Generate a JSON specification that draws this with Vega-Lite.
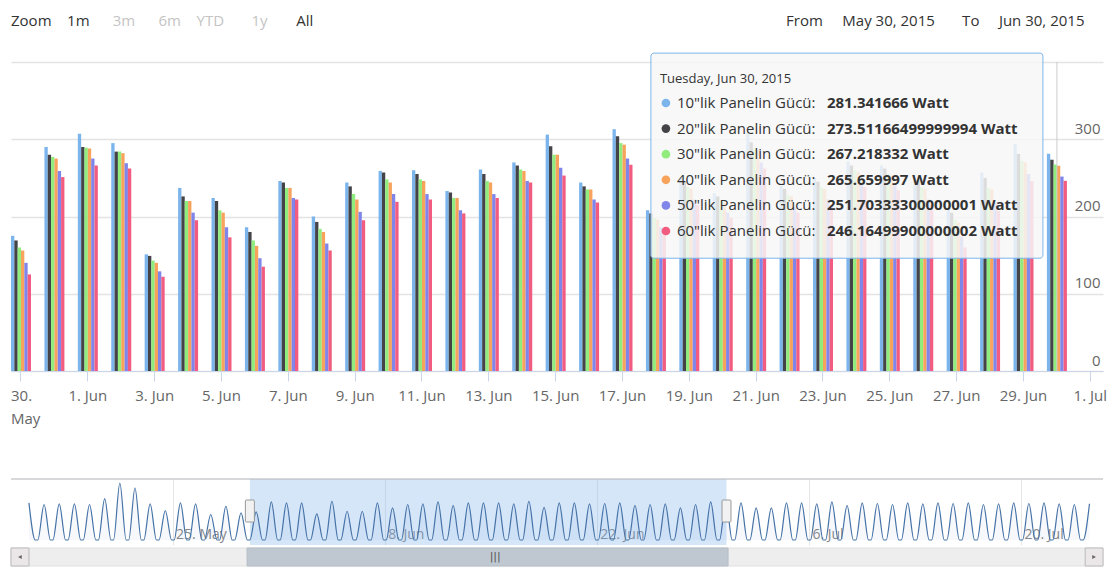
{
  "$schema": "https://vega.github.io/schema/vega-lite/v6.json",
  "background": "white",
  "padding": {"left": 10, "top": 13, "right": 0, "bottom": 0},
  "config": {
    "font": "Open Sans",
    "view": {"stroke": null}
  },
  "datasets": {
    "bars": [
      {"day":"2015-05-30","series":"10\"lik Panelin Gücü","power":175},{"day":"2015-05-30","series":"20\"lik Panelin Gücü","power":169},{"day":"2015-05-30","series":"30\"lik Panelin Gücü","power":160},{"day":"2015-05-30","series":"40\"lik Panelin Gücü","power":156},{"day":"2015-05-30","series":"50\"lik Panelin Gücü","power":140},{"day":"2015-05-30","series":"60\"lik Panelin Gücü","power":125},
      {"day":"2015-05-31","series":"10\"lik Panelin Gücü","power":290},{"day":"2015-05-31","series":"20\"lik Panelin Gücü","power":280},{"day":"2015-05-31","series":"30\"lik Panelin Gücü","power":277},{"day":"2015-05-31","series":"40\"lik Panelin Gücü","power":275},{"day":"2015-05-31","series":"50\"lik Panelin Gücü","power":259},{"day":"2015-05-31","series":"60\"lik Panelin Gücü","power":251},
      {"day":"2015-06-01","series":"10\"lik Panelin Gücü","power":307},{"day":"2015-06-01","series":"20\"lik Panelin Gücü","power":290},{"day":"2015-06-01","series":"30\"lik Panelin Gücü","power":289},{"day":"2015-06-01","series":"40\"lik Panelin Gücü","power":288},{"day":"2015-06-01","series":"50\"lik Panelin Gücü","power":275},{"day":"2015-06-01","series":"60\"lik Panelin Gücü","power":266},
      {"day":"2015-06-02","series":"10\"lik Panelin Gücü","power":295},{"day":"2015-06-02","series":"20\"lik Panelin Gücü","power":284},{"day":"2015-06-02","series":"30\"lik Panelin Gücü","power":284},{"day":"2015-06-02","series":"40\"lik Panelin Gücü","power":282},{"day":"2015-06-02","series":"50\"lik Panelin Gücü","power":269},{"day":"2015-06-02","series":"60\"lik Panelin Gücü","power":262},
      {"day":"2015-06-03","series":"10\"lik Panelin Gücü","power":151},{"day":"2015-06-03","series":"20\"lik Panelin Gücü","power":149},{"day":"2015-06-03","series":"30\"lik Panelin Gücü","power":143},{"day":"2015-06-03","series":"40\"lik Panelin Gücü","power":140},{"day":"2015-06-03","series":"50\"lik Panelin Gücü","power":129},{"day":"2015-06-03","series":"60\"lik Panelin Gücü","power":122},
      {"day":"2015-06-04","series":"10\"lik Panelin Gücü","power":237},{"day":"2015-06-04","series":"20\"lik Panelin Gücü","power":226},{"day":"2015-06-04","series":"30\"lik Panelin Gücü","power":220},{"day":"2015-06-04","series":"40\"lik Panelin Gücü","power":220},{"day":"2015-06-04","series":"50\"lik Panelin Gücü","power":205},{"day":"2015-06-04","series":"60\"lik Panelin Gücü","power":195},
      {"day":"2015-06-05","series":"10\"lik Panelin Gücü","power":224},{"day":"2015-06-05","series":"20\"lik Panelin Gücü","power":220},{"day":"2015-06-05","series":"30\"lik Panelin Gücü","power":208},{"day":"2015-06-05","series":"40\"lik Panelin Gücü","power":205},{"day":"2015-06-05","series":"50\"lik Panelin Gücü","power":186},{"day":"2015-06-05","series":"60\"lik Panelin Gücü","power":173},
      {"day":"2015-06-06","series":"10\"lik Panelin Gücü","power":186},{"day":"2015-06-06","series":"20\"lik Panelin Gücü","power":180},{"day":"2015-06-06","series":"30\"lik Panelin Gücü","power":169},{"day":"2015-06-06","series":"40\"lik Panelin Gücü","power":162},{"day":"2015-06-06","series":"50\"lik Panelin Gücü","power":146},{"day":"2015-06-06","series":"60\"lik Panelin Gücü","power":135},
      {"day":"2015-06-07","series":"10\"lik Panelin Gücü","power":246},{"day":"2015-06-07","series":"20\"lik Panelin Gücü","power":244},{"day":"2015-06-07","series":"30\"lik Panelin Gücü","power":237},{"day":"2015-06-07","series":"40\"lik Panelin Gücü","power":237},{"day":"2015-06-07","series":"50\"lik Panelin Gücü","power":224},{"day":"2015-06-07","series":"60\"lik Panelin Gücü","power":222},
      {"day":"2015-06-08","series":"10\"lik Panelin Gücü","power":200},{"day":"2015-06-08","series":"20\"lik Panelin Gücü","power":193},{"day":"2015-06-08","series":"30\"lik Panelin Gücü","power":184},{"day":"2015-06-08","series":"40\"lik Panelin Gücü","power":180},{"day":"2015-06-08","series":"50\"lik Panelin Gücü","power":165},{"day":"2015-06-08","series":"60\"lik Panelin Gücü","power":156},
      {"day":"2015-06-09","series":"10\"lik Panelin Gücü","power":244},{"day":"2015-06-09","series":"20\"lik Panelin Gücü","power":239},{"day":"2015-06-09","series":"30\"lik Panelin Gücü","power":229},{"day":"2015-06-09","series":"40\"lik Panelin Gücü","power":222},{"day":"2015-06-09","series":"50\"lik Panelin Gücü","power":206},{"day":"2015-06-09","series":"60\"lik Panelin Gücü","power":195},
      {"day":"2015-06-10","series":"10\"lik Panelin Gücü","power":259},{"day":"2015-06-10","series":"20\"lik Panelin Gücü","power":257},{"day":"2015-06-10","series":"30\"lik Panelin Gücü","power":248},{"day":"2015-06-10","series":"40\"lik Panelin Gücü","power":244},{"day":"2015-06-10","series":"50\"lik Panelin Gücü","power":229},{"day":"2015-06-10","series":"60\"lik Panelin Gücü","power":219},
      {"day":"2015-06-11","series":"10\"lik Panelin Gücü","power":260},{"day":"2015-06-11","series":"20\"lik Panelin Gücü","power":255},{"day":"2015-06-11","series":"30\"lik Panelin Gücü","power":248},{"day":"2015-06-11","series":"40\"lik Panelin Gücü","power":246},{"day":"2015-06-11","series":"50\"lik Panelin Gücü","power":229},{"day":"2015-06-11","series":"60\"lik Panelin Gücü","power":222},
      {"day":"2015-06-12","series":"10\"lik Panelin Gücü","power":233},{"day":"2015-06-12","series":"20\"lik Panelin Gücü","power":231},{"day":"2015-06-12","series":"30\"lik Panelin Gücü","power":224},{"day":"2015-06-12","series":"40\"lik Panelin Gücü","power":224},{"day":"2015-06-12","series":"50\"lik Panelin Gücü","power":208},{"day":"2015-06-12","series":"60\"lik Panelin Gücü","power":204},
      {"day":"2015-06-13","series":"10\"lik Panelin Gücü","power":261},{"day":"2015-06-13","series":"20\"lik Panelin Gücü","power":255},{"day":"2015-06-13","series":"30\"lik Panelin Gücü","power":246},{"day":"2015-06-13","series":"40\"lik Panelin Gücü","power":244},{"day":"2015-06-13","series":"50\"lik Panelin Gücü","power":229},{"day":"2015-06-13","series":"60\"lik Panelin Gücü","power":224},
      {"day":"2015-06-14","series":"10\"lik Panelin Gücü","power":270},{"day":"2015-06-14","series":"20\"lik Panelin Gücü","power":266},{"day":"2015-06-14","series":"30\"lik Panelin Gücü","power":261},{"day":"2015-06-14","series":"40\"lik Panelin Gücü","power":259},{"day":"2015-06-14","series":"50\"lik Panelin Gücü","power":246},{"day":"2015-06-14","series":"60\"lik Panelin Gücü","power":244},
      {"day":"2015-06-15","series":"10\"lik Panelin Gücü","power":306},{"day":"2015-06-15","series":"20\"lik Panelin Gücü","power":291},{"day":"2015-06-15","series":"30\"lik Panelin Gücü","power":280},{"day":"2015-06-15","series":"40\"lik Panelin Gücü","power":280},{"day":"2015-06-15","series":"50\"lik Panelin Gücü","power":263},{"day":"2015-06-15","series":"60\"lik Panelin Gücü","power":253},
      {"day":"2015-06-16","series":"10\"lik Panelin Gücü","power":244},{"day":"2015-06-16","series":"20\"lik Panelin Gücü","power":239},{"day":"2015-06-16","series":"30\"lik Panelin Gücü","power":235},{"day":"2015-06-16","series":"40\"lik Panelin Gücü","power":235},{"day":"2015-06-16","series":"50\"lik Panelin Gücü","power":222},{"day":"2015-06-16","series":"60\"lik Panelin Gücü","power":218},
      {"day":"2015-06-17","series":"10\"lik Panelin Gücü","power":313},{"day":"2015-06-17","series":"20\"lik Panelin Gücü","power":304},{"day":"2015-06-17","series":"30\"lik Panelin Gücü","power":295},{"day":"2015-06-17","series":"40\"lik Panelin Gücü","power":293},{"day":"2015-06-17","series":"50\"lik Panelin Gücü","power":275},{"day":"2015-06-17","series":"60\"lik Panelin Gücü","power":267},
      {"day":"2015-06-18","series":"10\"lik Panelin Gücü","power":208},{"day":"2015-06-18","series":"20\"lik Panelin Gücü","power":204},{"day":"2015-06-18","series":"30\"lik Panelin Gücü","power":198},{"day":"2015-06-18","series":"40\"lik Panelin Gücü","power":196},{"day":"2015-06-18","series":"50\"lik Panelin Gücü","power":186},{"day":"2015-06-18","series":"60\"lik Panelin Gücü","power":180},
      {"day":"2015-06-19","series":"10\"lik Panelin Gücü","power":250},{"day":"2015-06-19","series":"20\"lik Panelin Gücü","power":245},{"day":"2015-06-19","series":"30\"lik Panelin Gücü","power":238},{"day":"2015-06-19","series":"40\"lik Panelin Gücü","power":236},{"day":"2015-06-19","series":"50\"lik Panelin Gücü","power":222},{"day":"2015-06-19","series":"60\"lik Panelin Gücü","power":215},
      {"day":"2015-06-20","series":"10\"lik Panelin Gücü","power":230},{"day":"2015-06-20","series":"20\"lik Panelin Gücü","power":226},{"day":"2015-06-20","series":"30\"lik Panelin Gücü","power":220},{"day":"2015-06-20","series":"40\"lik Panelin Gücü","power":218},{"day":"2015-06-20","series":"50\"lik Panelin Gücü","power":205},{"day":"2015-06-20","series":"60\"lik Panelin Gücü","power":198},
      {"day":"2015-06-21","series":"10\"lik Panelin Gücü","power":309},{"day":"2015-06-21","series":"20\"lik Panelin Gücü","power":296},{"day":"2015-06-21","series":"30\"lik Panelin Gücü","power":288},{"day":"2015-06-21","series":"40\"lik Panelin Gücü","power":286},{"day":"2015-06-21","series":"50\"lik Panelin Gücü","power":270},{"day":"2015-06-21","series":"60\"lik Panelin Gücü","power":262},
      {"day":"2015-06-22","series":"10\"lik Panelin Gücü","power":240},{"day":"2015-06-22","series":"20\"lik Panelin Gücü","power":236},{"day":"2015-06-22","series":"30\"lik Panelin Gücü","power":228},{"day":"2015-06-22","series":"40\"lik Panelin Gücü","power":226},{"day":"2015-06-22","series":"50\"lik Panelin Gücü","power":212},{"day":"2015-06-22","series":"60\"lik Panelin Gücü","power":205},
      {"day":"2015-06-23","series":"10\"lik Panelin Gücü","power":250},{"day":"2015-06-23","series":"20\"lik Panelin Gücü","power":245},{"day":"2015-06-23","series":"30\"lik Panelin Gücü","power":238},{"day":"2015-06-23","series":"40\"lik Panelin Gücü","power":236},{"day":"2015-06-23","series":"50\"lik Panelin Gücü","power":222},{"day":"2015-06-23","series":"60\"lik Panelin Gücü","power":215},
      {"day":"2015-06-24","series":"10\"lik Panelin Gücü","power":271},{"day":"2015-06-24","series":"20\"lik Panelin Gücü","power":266},{"day":"2015-06-24","series":"30\"lik Panelin Gücü","power":260},{"day":"2015-06-24","series":"40\"lik Panelin Gücü","power":258},{"day":"2015-06-24","series":"50\"lik Panelin Gücü","power":244},{"day":"2015-06-24","series":"60\"lik Panelin Gücü","power":238},
      {"day":"2015-06-25","series":"10\"lik Panelin Gücü","power":266},{"day":"2015-06-25","series":"20\"lik Panelin Gücü","power":262},{"day":"2015-06-25","series":"30\"lik Panelin Gücü","power":255},{"day":"2015-06-25","series":"40\"lik Panelin Gücü","power":253},{"day":"2015-06-25","series":"50\"lik Panelin Gücü","power":240},{"day":"2015-06-25","series":"60\"lik Panelin Gücü","power":234},
      {"day":"2015-06-26","series":"10\"lik Panelin Gücü","power":250},{"day":"2015-06-26","series":"20\"lik Panelin Gücü","power":246},{"day":"2015-06-26","series":"30\"lik Panelin Gücü","power":238},{"day":"2015-06-26","series":"40\"lik Panelin Gücü","power":236},{"day":"2015-06-26","series":"50\"lik Panelin Gücü","power":222},{"day":"2015-06-26","series":"60\"lik Panelin Gücü","power":216},
      {"day":"2015-06-27","series":"10\"lik Panelin Gücü","power":211},{"day":"2015-06-27","series":"20\"lik Panelin Gücü","power":205},{"day":"2015-06-27","series":"30\"lik Panelin Gücü","power":196},{"day":"2015-06-27","series":"40\"lik Panelin Gücü","power":192},{"day":"2015-06-27","series":"50\"lik Panelin Gücü","power":174},{"day":"2015-06-27","series":"60\"lik Panelin Gücü","power":160},
      {"day":"2015-06-28","series":"10\"lik Panelin Gücü","power":257},{"day":"2015-06-28","series":"20\"lik Panelin Gücü","power":250},{"day":"2015-06-28","series":"30\"lik Panelin Gücü","power":237},{"day":"2015-06-28","series":"40\"lik Panelin Gücü","power":235},{"day":"2015-06-28","series":"50\"lik Panelin Gücü","power":218},{"day":"2015-06-28","series":"60\"lik Panelin Gücü","power":207},
      {"day":"2015-06-29","series":"10\"lik Panelin Gücü","power":294},{"day":"2015-06-29","series":"20\"lik Panelin Gücü","power":281},{"day":"2015-06-29","series":"30\"lik Panelin Gücü","power":272},{"day":"2015-06-29","series":"40\"lik Panelin Gücü","power":270},{"day":"2015-06-29","series":"50\"lik Panelin Gücü","power":255},{"day":"2015-06-29","series":"60\"lik Panelin Gücü","power":246},
      {"day":"2015-06-30","series":"10\"lik Panelin Gücü","power":281.341666},{"day":"2015-06-30","series":"20\"lik Panelin Gücü","power":273.51166499999994},{"day":"2015-06-30","series":"30\"lik Panelin Gücü","power":267.218332},{"day":"2015-06-30","series":"40\"lik Panelin Gücü","power":265.659997},{"day":"2015-06-30","series":"50\"lik Panelin Gücü","power":251.70333300000001},{"day":"2015-06-30","series":"60\"lik Panelin Gücü","power":246.16499900000002}
    ],
    "nav": [
      {"t":"2015-05-15T12:30Z","v":297},{"t":"2015-05-15T22:30Z","v":0},
      {"t":"2015-05-16T02:30Z","v":0},{"t":"2015-05-16T12:30Z","v":284},{"t":"2015-05-16T22:30Z","v":0},
      {"t":"2015-05-17T02:30Z","v":0},{"t":"2015-05-17T12:30Z","v":289},{"t":"2015-05-17T22:30Z","v":0},
      {"t":"2015-05-18T02:30Z","v":0},{"t":"2015-05-18T12:30Z","v":289},{"t":"2015-05-18T22:30Z","v":0},
      {"t":"2015-05-19T02:30Z","v":0},{"t":"2015-05-19T12:30Z","v":284},{"t":"2015-05-19T22:30Z","v":0},
      {"t":"2015-05-20T02:30Z","v":0},{"t":"2015-05-20T12:30Z","v":331},{"t":"2015-05-20T22:30Z","v":0},
      {"t":"2015-05-21T02:30Z","v":0},{"t":"2015-05-21T12:30Z","v":456},{"t":"2015-05-21T22:30Z","v":0},
      {"t":"2015-05-22T02:30Z","v":0},{"t":"2015-05-22T12:30Z","v":416},{"t":"2015-05-22T22:30Z","v":0},
      {"t":"2015-05-23T02:30Z","v":0},{"t":"2015-05-23T12:30Z","v":289},{"t":"2015-05-23T22:30Z","v":0},
      {"t":"2015-05-24T02:30Z","v":0},{"t":"2015-05-24T12:30Z","v":236},{"t":"2015-05-24T22:30Z","v":0},
      {"t":"2015-05-25T02:30Z","v":0},{"t":"2015-05-25T12:30Z","v":297},{"t":"2015-05-25T22:30Z","v":0},
      {"t":"2015-05-26T02:30Z","v":0},{"t":"2015-05-26T12:30Z","v":289},{"t":"2015-05-26T22:30Z","v":0},
      {"t":"2015-05-27T02:30Z","v":0},{"t":"2015-05-27T12:30Z","v":204},{"t":"2015-05-27T22:30Z","v":0},
      {"t":"2015-05-28T02:30Z","v":0},{"t":"2015-05-28T12:30Z","v":270},{"t":"2015-05-28T22:30Z","v":0},
      {"t":"2015-05-29T02:30Z","v":0},{"t":"2015-05-29T12:30Z","v":217},{"t":"2015-05-29T22:30Z","v":0},
      {"t":"2015-05-30T02:30Z","v":0},{"t":"2015-05-30T12:30Z","v":225},{"t":"2015-05-30T22:30Z","v":0},
      {"t":"2015-05-31T02:30Z","v":0},{"t":"2015-05-31T12:30Z","v":305},{"t":"2015-05-31T22:30Z","v":0},
      {"t":"2015-06-01T02:30Z","v":0},{"t":"2015-06-01T12:30Z","v":297},{"t":"2015-06-01T22:30Z","v":0},
      {"t":"2015-06-02T02:30Z","v":0},{"t":"2015-06-02T12:30Z","v":297},{"t":"2015-06-02T22:30Z","v":0},
      {"t":"2015-06-03T02:30Z","v":0},{"t":"2015-06-03T12:30Z","v":209},{"t":"2015-06-03T22:30Z","v":0},
      {"t":"2015-06-04T02:30Z","v":0},{"t":"2015-06-04T12:30Z","v":310},{"t":"2015-06-04T22:30Z","v":0},
      {"t":"2015-06-05T02:30Z","v":0},{"t":"2015-06-05T12:30Z","v":230},{"t":"2015-06-05T22:30Z","v":0},
      {"t":"2015-06-06T02:30Z","v":0},{"t":"2015-06-06T12:30Z","v":230},{"t":"2015-06-06T22:30Z","v":0},
      {"t":"2015-06-07T02:30Z","v":0},{"t":"2015-06-07T12:30Z","v":297},{"t":"2015-06-07T22:30Z","v":0},
      {"t":"2015-06-08T02:30Z","v":0},{"t":"2015-06-08T12:30Z","v":257},{"t":"2015-06-08T22:30Z","v":0},
      {"t":"2015-06-09T02:30Z","v":0},{"t":"2015-06-09T12:30Z","v":284},{"t":"2015-06-09T22:30Z","v":0},
      {"t":"2015-06-10T02:30Z","v":0},{"t":"2015-06-10T12:30Z","v":289},{"t":"2015-06-10T22:30Z","v":0},
      {"t":"2015-06-11T02:30Z","v":0},{"t":"2015-06-11T12:30Z","v":305},{"t":"2015-06-11T22:30Z","v":0},
      {"t":"2015-06-12T02:30Z","v":0},{"t":"2015-06-12T12:30Z","v":276},{"t":"2015-06-12T22:30Z","v":0},
      {"t":"2015-06-13T02:30Z","v":0},{"t":"2015-06-13T12:30Z","v":297},{"t":"2015-06-13T22:30Z","v":0},
      {"t":"2015-06-14T02:30Z","v":0},{"t":"2015-06-14T12:30Z","v":297},{"t":"2015-06-14T22:30Z","v":0},
      {"t":"2015-06-15T02:30Z","v":0},{"t":"2015-06-15T12:30Z","v":297},{"t":"2015-06-15T22:30Z","v":0},
      {"t":"2015-06-16T02:30Z","v":0},{"t":"2015-06-16T12:30Z","v":289},{"t":"2015-06-16T22:30Z","v":0},
      {"t":"2015-06-17T02:30Z","v":0},{"t":"2015-06-17T12:30Z","v":310},{"t":"2015-06-17T22:30Z","v":0},
      {"t":"2015-06-18T02:30Z","v":0},{"t":"2015-06-18T12:30Z","v":262},{"t":"2015-06-18T22:30Z","v":0},
      {"t":"2015-06-19T02:30Z","v":0},{"t":"2015-06-19T12:30Z","v":297},{"t":"2015-06-19T22:30Z","v":0},
      {"t":"2015-06-20T02:30Z","v":0},{"t":"2015-06-20T12:30Z","v":297},{"t":"2015-06-20T22:30Z","v":0},
      {"t":"2015-06-21T02:30Z","v":0},{"t":"2015-06-21T12:30Z","v":289},{"t":"2015-06-21T22:30Z","v":0},
      {"t":"2015-06-22T02:30Z","v":0},{"t":"2015-06-22T12:30Z","v":292},{"t":"2015-06-22T22:30Z","v":0},
      {"t":"2015-06-23T02:30Z","v":0},{"t":"2015-06-23T12:30Z","v":297},{"t":"2015-06-23T22:30Z","v":0},
      {"t":"2015-06-24T02:30Z","v":0},{"t":"2015-06-24T12:30Z","v":276},{"t":"2015-06-24T22:30Z","v":0},
      {"t":"2015-06-25T02:30Z","v":0},{"t":"2015-06-25T12:30Z","v":284},{"t":"2015-06-25T22:30Z","v":0},
      {"t":"2015-06-26T02:30Z","v":0},{"t":"2015-06-26T12:30Z","v":289},{"t":"2015-06-26T22:30Z","v":0},
      {"t":"2015-06-27T02:30Z","v":0},{"t":"2015-06-27T12:30Z","v":257},{"t":"2015-06-27T22:30Z","v":0},
      {"t":"2015-06-28T02:30Z","v":0},{"t":"2015-06-28T12:30Z","v":284},{"t":"2015-06-28T22:30Z","v":0},
      {"t":"2015-06-29T02:30Z","v":0},{"t":"2015-06-29T12:30Z","v":305},{"t":"2015-06-29T22:30Z","v":0},
      {"t":"2015-06-30T02:30Z","v":0},{"t":"2015-06-30T12:30Z","v":310},{"t":"2015-06-30T22:30Z","v":0},
      {"t":"2015-07-01T02:30Z","v":0},{"t":"2015-07-01T12:30Z","v":297},{"t":"2015-07-01T22:30Z","v":0},
      {"t":"2015-07-02T02:30Z","v":0},{"t":"2015-07-02T12:30Z","v":257},{"t":"2015-07-02T22:30Z","v":0},
      {"t":"2015-07-03T02:30Z","v":0},{"t":"2015-07-03T12:30Z","v":257},{"t":"2015-07-03T22:30Z","v":0},
      {"t":"2015-07-04T02:30Z","v":0},{"t":"2015-07-04T12:30Z","v":297},{"t":"2015-07-04T22:30Z","v":0},
      {"t":"2015-07-05T02:30Z","v":0},{"t":"2015-07-05T12:30Z","v":297},{"t":"2015-07-05T22:30Z","v":0},
      {"t":"2015-07-06T02:30Z","v":0},{"t":"2015-07-06T12:30Z","v":289},{"t":"2015-07-06T22:30Z","v":0},
      {"t":"2015-07-07T02:30Z","v":0},{"t":"2015-07-07T12:30Z","v":305},{"t":"2015-07-07T22:30Z","v":0},
      {"t":"2015-07-08T02:30Z","v":0},{"t":"2015-07-08T12:30Z","v":276},{"t":"2015-07-08T22:30Z","v":0},
      {"t":"2015-07-09T02:30Z","v":0},{"t":"2015-07-09T12:30Z","v":297},{"t":"2015-07-09T22:30Z","v":0},
      {"t":"2015-07-10T02:30Z","v":0},{"t":"2015-07-10T12:30Z","v":292},{"t":"2015-07-10T22:30Z","v":0},
      {"t":"2015-07-11T02:30Z","v":0},{"t":"2015-07-11T12:30Z","v":284},{"t":"2015-07-11T22:30Z","v":0},
      {"t":"2015-07-12T02:30Z","v":0},{"t":"2015-07-12T12:30Z","v":297},{"t":"2015-07-12T22:30Z","v":0},
      {"t":"2015-07-13T02:30Z","v":0},{"t":"2015-07-13T12:30Z","v":289},{"t":"2015-07-13T22:30Z","v":0},
      {"t":"2015-07-14T02:30Z","v":0},{"t":"2015-07-14T12:30Z","v":297},{"t":"2015-07-14T22:30Z","v":0},
      {"t":"2015-07-15T02:30Z","v":0},{"t":"2015-07-15T12:30Z","v":292},{"t":"2015-07-15T22:30Z","v":0},
      {"t":"2015-07-16T02:30Z","v":0},{"t":"2015-07-16T12:30Z","v":297},{"t":"2015-07-16T22:30Z","v":0},
      {"t":"2015-07-17T02:30Z","v":0},{"t":"2015-07-17T12:30Z","v":284},{"t":"2015-07-17T22:30Z","v":0},
      {"t":"2015-07-18T02:30Z","v":0},{"t":"2015-07-18T12:30Z","v":289},{"t":"2015-07-18T22:30Z","v":0},
      {"t":"2015-07-19T02:30Z","v":0},{"t":"2015-07-19T12:30Z","v":297},{"t":"2015-07-19T22:30Z","v":0},
      {"t":"2015-07-20T02:30Z","v":0},{"t":"2015-07-20T12:30Z","v":292},{"t":"2015-07-20T22:30Z","v":0},
      {"t":"2015-07-21T02:30Z","v":0},{"t":"2015-07-21T12:30Z","v":297},{"t":"2015-07-21T22:30Z","v":0},
      {"t":"2015-07-22T02:30Z","v":0},{"t":"2015-07-22T12:30Z","v":289},{"t":"2015-07-22T22:30Z","v":0},
      {"t":"2015-07-23T02:30Z","v":0},{"t":"2015-07-23T12:30Z","v":284},{"t":"2015-07-23T22:30Z","v":0},
      {"t":"2015-07-24T02:30Z","v":0},{"t":"2015-07-24T12:30Z","v":290}
    ]
  },
  "bounds": "flush",
  "spacing": 108,
  "vconcat": [
    {
      "width": 1092,
      "height": 309,
      "title": {
        "text": "Zoom\u00a0\u00a0\u00a0\u00a01m\u2003\u2003\u2003\u2003\u2003\u2003\u2003\u2003\u2003\u2003\u2003\u2003\u2003\u00a0\u00a0\u00a0All\u2003\u2003\u2003\u2003\u2003\u2003\u2003\u2003\u2003\u2003\u2003\u2003\u2003\u2003\u2003\u2003\u2003\u2003\u2003\u2003\u2003\u2003\u2003\u2003\u2003\u2003\u2003\u2003\u2003\u2003\u2003\u00a0\u00a0From\u00a0\u00a0\u00a0\u00a0\u00a0May 30, 2015\u00a0\u00a0\u00a0\u00a0\u00a0\u00a0\u00a0To\u00a0\u00a0\u00a0\u00a0\u00a0Jun 30, 2015",
        "subtitle": "\u200b\u2003\u2003\u2003\u2003\u2003\u2003\u00a0\u00a0\u00a03m\u00a0\u00a0\u00a0\u00a0\u00a0\u00a06m\u00a0\u00a0\u00a0\u00a0YTD\u00a0\u00a0\u00a0\u00a0\u00a0\u00a0\u00a01y",
        "anchor": "start", "frame": "group", "offset": 24,
        "fontSize": 15, "fontWeight": "normal", "color": "#333333", "lineHeight": 15,
        "subtitleFontSize": 15, "subtitleColor": "#c4c4c4", "subtitleFont": "Open Sans", "subtitlePadding": -15, "subtitleLineHeight": 15
      },
      "data": {"name": "bars"},
      "resolve": {"scale": {"y": "independent"}},
      "layer": [
        {
          "mark": {"type": "bar"},
          "encoding": {
            "x": {"field": "day", "type": "ordinal",
              "scale": {"type": "band", "domain": ["2015-05-30","2015-05-31","2015-06-01","2015-06-02","2015-06-03","2015-06-04","2015-06-05","2015-06-06","2015-06-07","2015-06-08","2015-06-09","2015-06-10","2015-06-11","2015-06-12","2015-06-13","2015-06-14","2015-06-15","2015-06-16","2015-06-17","2015-06-18","2015-06-19","2015-06-20","2015-06-21","2015-06-22","2015-06-23","2015-06-24","2015-06-25","2015-06-26","2015-06-27","2015-06-28","2015-06-29","2015-06-30","2015-07-01"], "paddingInner": 0.4016, "paddingOuter": 0.04, "align": 0},
              "axis": {"values": ["2015-05-30","2015-06-01","2015-06-03","2015-06-05","2015-06-07","2015-06-09","2015-06-11","2015-06-13","2015-06-15","2015-06-17","2015-06-19","2015-06-21","2015-06-23","2015-06-25","2015-06-27","2015-06-29","2015-07-01"],
                "labelExpr": "datum.value == '2015-05-30' ? ['30.', 'May'] : utcFormat(toDate(datum.value), '%-d. %b')",
                "labelAlign": {"condition": {"test": "datum.value == '2015-05-30'", "value": "left"}, "value": "center"},
                "labelOffset": {"condition": {"test": "datum.value == '2015-05-30'", "value": -10}, "value": 0},
                "labelAngle": 0, "labelFontSize": 15, "labelColor": "#666666", "labelPadding": 7, "labelBaseline": "top", "labelLineHeight": 23,
                "tickColor": "#ccd6eb", "tickSize": 10, "domainColor": "#ccd6eb", "grid": false, "title": null, "labelOverlap": false}},
            "xOffset": {"field": "series", "type": "nominal", "scale": {"domain": ["10\"lik Panelin Gücü","20\"lik Panelin Gücü","30\"lik Panelin Gücü","40\"lik Panelin Gücü","50\"lik Panelin Gücü","60\"lik Panelin Gücü"], "paddingInner": 0, "paddingOuter": 0}},
            "y": {"field": "power", "type": "quantitative", "scale": {"domain": [0, 400], "nice": false},
              "axis": {"orient": "right", "values": [0, 100, 200, 300, 400], "labelExpr": "datum.value == 400 ? '' : datum.label",
                "grid": true, "gridColor": "#e3e3e3", "gridWidth": 1.5, "domain": false, "ticks": false, "tickSize": 0,
                "labelAlign": "right", "labelPadding": -3, "labelBaseline": "alphabetic", "labelOffset": -6, "labelFontSize": 15, "labelColor": "#666666", "title": null}},
            "color": {"field": "series", "type": "nominal", "scale": {"domain": ["10\"lik Panelin Gücü","20\"lik Panelin Gücü","30\"lik Panelin Gücü","40\"lik Panelin Gücü","50\"lik Panelin Gücü","60\"lik Panelin Gücü"], "range": ["#7cb5ec","#434348","#90ed7d","#f7a35c","#8085e9","#f15c80"]}, "legend": null}
          }
        },
        {
          "data": {"values": [{}]},
          "mark": {"type": "rule", "color": "#cccccc", "strokeWidth": 1},
          "encoding": {"x": {"datum": "2015-06-30", "type": "ordinal"}}
        },
        {
          "data": {"values": [{}]},
          "mark": {"type": "rect", "fill": "#f7f7f7", "fillOpacity": 0.85, "stroke": "#7cb5ec", "strokeWidth": 1, "cornerRadius": 3, "x2Offset": -14},
          "encoding": {
            "x": {"datum": "2015-06-18", "type": "ordinal", "bandPosition": 0.25},
            "x2": {"datum": "2015-06-30"},
            "y": {"datum": 411.5, "type": "quantitative", "scale": {"domain": [0, 400], "nice": false}, "axis": null},
            "y2": {"datum": 146}
          }
        },
        {
          "data": {"values": [{}]},
          "mark": {"type": "text", "text": "Tuesday, Jun 30, 2015", "align": "left", "baseline": "middle", "fontSize": 13, "color": "#333333", "dx": 14},
          "encoding": {
            "x": {"datum": "2015-06-18", "type": "ordinal", "bandPosition": 0},
            "y": {"datum": 378, "type": "quantitative", "scale": {"domain": [0, 400], "nice": false}, "axis": null}
          }
        },
        {
          "transform": [{"filter": "datum.day == '2015-06-30'"}],
          "mark": {"type": "point", "shape": "circle", "filled": true, "size": 75, "opacity": 1, "xOffset": 20},
          "encoding": {
            "x": {"datum": "2015-06-18", "type": "ordinal", "bandPosition": 0},
            "y": {"field": "series", "type": "nominal", "scale": {"type": "point", "domain": ["10\"lik Panelin Gücü","20\"lik Panelin Gücü","30\"lik Panelin Gücü","40\"lik Panelin Gücü","50\"lik Panelin Gücü","60\"lik Panelin Gücü"], "range": [41, 169], "padding": 0}, "axis": null},
            "color": {"field": "series", "type": "nominal", "legend": null}
          }
        },
        {
          "transform": [{"filter": "datum.day == '2015-06-30'"}, {"calculate": "datum.series + ':'", "as": "lab"}],
          "mark": {"type": "text", "align": "left", "baseline": "middle", "fontSize": 15, "color": "#333333", "dx": 31},
          "encoding": {
            "x": {"datum": "2015-06-18", "type": "ordinal", "bandPosition": 0},
            "y": {"field": "series", "type": "nominal", "scale": {"type": "point", "domain": ["10\"lik Panelin Gücü","20\"lik Panelin Gücü","30\"lik Panelin Gücü","40\"lik Panelin Gücü","50\"lik Panelin Gücü","60\"lik Panelin Gücü"], "range": [41, 169], "padding": 0}, "axis": null},
            "text": {"field": "lab", "type": "nominal"}
          }
        },
        {
          "transform": [{"filter": "datum.day == '2015-06-30'"}, {"calculate": "datum.power + ' Watt'", "as": "val"}],
          "mark": {"type": "text", "align": "left", "baseline": "middle", "fontSize": 15, "fontWeight": "bold", "color": "#333333", "dx": 181},
          "encoding": {
            "x": {"datum": "2015-06-18", "type": "ordinal", "bandPosition": 0},
            "y": {"field": "series", "type": "nominal", "scale": {"type": "point", "domain": ["10\"lik Panelin Gücü","20\"lik Panelin Gücü","30\"lik Panelin Gücü","40\"lik Panelin Gücü","50\"lik Panelin Gücü","60\"lik Panelin Gücü"], "range": [41, 169], "padding": 0}, "axis": null},
            "text": {"field": "val", "type": "nominal"}
          }
        }
      ]
    },
    {
      "bounds": "flush",
      "spacing": 3,
      "vconcat": [
        {
          "width": 1092,
          "height": 66,
          "layer": [
            {
              "data": {"values": [{}]},
              "mark": {"type": "rect", "fill": "#80b3ec", "fillOpacity": 0.33},
              "encoding": {
                "x": {"datum": {"year": 2015, "month": 5, "date": 30, "hours": 2, "minutes": 30, "utc": true}, "type": "temporal",
                  "scale": {"type": "utc", "domain": [{"year": 2015, "month": 5, "date": 14, "hours": 16, "utc": true}, {"year": 2015, "month": 7, "date": 25, "hours": 2, "utc": true}]},
                  "axis": {"values": [{"year": 2015, "month": 5, "date": 25, "utc": true}, {"year": 2015, "month": 6, "date": 8, "utc": true}, {"year": 2015, "month": 6, "date": 22, "utc": true}, {"year": 2015, "month": 7, "date": 6, "utc": true}, {"year": 2015, "month": 7, "date": 20, "utc": true}],
                    "format": "%-d. %b", "grid": true, "gridColor": "#e6e6e6", "tickSize": 0, "ticks": false, "domain": false,
                    "labelAlign": "left", "labelOffset": 3, "labelPadding": -7, "labelBaseline": "alphabetic", "labelColor": "#888888", "labelFontSize": 14, "title": null, "labelFlush": false}},
                "x2": {"datum": {"year": 2015, "month": 6, "date": 30, "hours": 13, "minutes": 30, "utc": true}}
              }
            },
            {
              "data": {"name": "nav"},
              "mark": {"type": "area", "interpolate": "monotone", "color": "#4572a7", "fillOpacity": 0.05, "line": {"color": "#4572a7", "strokeWidth": 1.2}},
              "encoding": {
                "x": {"field": "t", "type": "temporal"},
                "y": {"field": "v", "type": "quantitative", "scale": {"domain": [-40, 488], "nice": false, "zero": false}, "axis": null}
              }
            },
            {
              "data": {"values": [{}]},
              "mark": {"type": "rule", "color": "#b2b1b6", "strokeWidth": 1},
              "encoding": {"y": {"datum": 488, "type": "quantitative"}}
            },
            {
              "data": {"values": [{}]},
              "mark": {"type": "bar", "width": 9, "fill": "#f2f2f2", "stroke": "#999999", "strokeWidth": 1, "cornerRadius": 1},
              "encoding": {
                "x": {"datum": {"year": 2015, "month": 5, "date": 30, "hours": 2, "minutes": 30, "utc": true}, "type": "temporal"},
                "y": {"datum": 320, "type": "quantitative"},
                "y2": {"datum": 144}
              }
            },
            {
              "data": {"values": [{}]},
              "mark": {"type": "bar", "width": 9, "fill": "#f2f2f2", "stroke": "#999999", "strokeWidth": 1, "cornerRadius": 1},
              "encoding": {
                "x": {"datum": {"year": 2015, "month": 6, "date": 30, "hours": 13, "minutes": 30, "utc": true}, "type": "temporal"},
                "y": {"datum": 320, "type": "quantitative"},
                "y2": {"datum": 144}
              }
            }
          ]
        },
        {
          "width": 1092,
          "height": 18,
          "layer": [
            {
              "data": {"values": [{}]},
              "mark": {"type": "rect", "fill": "#eeeeee", "stroke": "#e0e0e0", "strokeWidth": 1},
              "encoding": {
                "x": {"datum": {"year": 2015, "month": 5, "date": 14, "hours": 16, "utc": true}, "type": "temporal",
                  "scale": {"type": "utc", "domain": [{"year": 2015, "month": 5, "date": 14, "hours": 16, "utc": true}, {"year": 2015, "month": 7, "date": 25, "hours": 2, "utc": true}]}, "axis": null},
                "x2": {"datum": {"year": 2015, "month": 7, "date": 25, "hours": 2, "utc": true}}
              }
            },
            {
              "data": {"values": [{}]},
              "mark": {"type": "rect", "fill": "#bfc8d1", "stroke": "#b5bec7", "strokeWidth": 1},
              "encoding": {
                "x": {"datum": {"year": 2015, "month": 5, "date": 30, "hours": 2, "minutes": 30, "utc": true}, "type": "temporal"},
                "x2": {"datum": {"year": 2015, "month": 6, "date": 30, "hours": 13, "minutes": 30, "utc": true}}
              }
            },
            {
              "data": {"values": [{}]},
              "mark": {"type": "rect", "fill": "#ebe7e8", "stroke": "#bbbbbb", "strokeWidth": 1},
              "encoding": {
                "x": {"datum": {"year": 2015, "month": 5, "date": 14, "hours": 16, "utc": true}, "type": "temporal"},
                "x2": {"datum": {"year": 2015, "month": 5, "date": 15, "hours": 20, "minutes": 15, "utc": true}}
              }
            },
            {
              "data": {"values": [{}]},
              "mark": {"type": "rect", "fill": "#ebe7e8", "stroke": "#bbbbbb", "strokeWidth": 1},
              "encoding": {
                "x": {"datum": {"year": 2015, "month": 7, "date": 23, "hours": 22, "utc": true}, "type": "temporal"},
                "x2": {"datum": {"year": 2015, "month": 7, "date": 25, "hours": 2, "utc": true}}
              }
            },
            {
              "data": {"values": [{}]},
              "mark": {"type": "point", "shape": "triangle-left", "filled": true, "color": "#666666", "size": 18, "opacity": 1},
              "encoding": {"x": {"datum": {"year": 2015, "month": 5, "date": 15, "hours": 6, "utc": true}, "type": "temporal"}}
            },
            {
              "data": {"values": [{}]},
              "mark": {"type": "point", "shape": "triangle-right", "filled": true, "color": "#666666", "size": 18, "opacity": 1},
              "encoding": {"x": {"datum": {"year": 2015, "month": 7, "date": 24, "hours": 12, "utc": true}, "type": "temporal"}}
            },
            {
              "data": {"values": [{}]},
              "mark": {"type": "text", "text": "|||", "fontSize": 11, "color": "#555555", "align": "center", "baseline": "middle", "font": "DejaVu Sans"},
              "encoding": {"x": {"datum": {"year": 2015, "month": 6, "date": 15, "hours": 8, "utc": true}, "type": "temporal"}}
            }
          ]
        }
      ]
    }
  ]
}
